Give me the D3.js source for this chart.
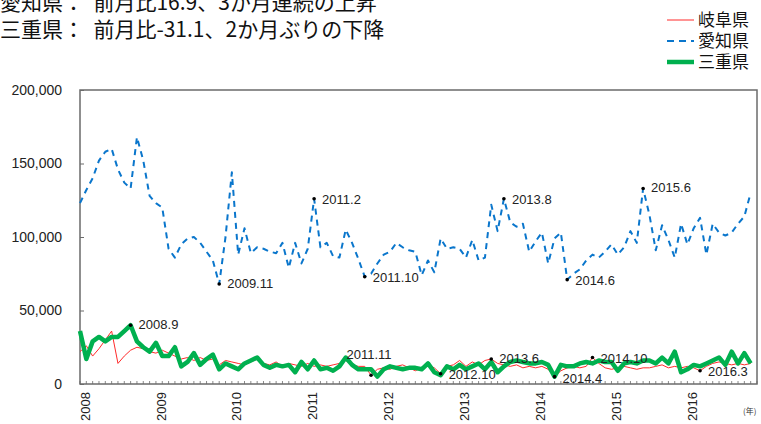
<!DOCTYPE html>
<html>
<head>
<meta charset="utf-8">
<script src="https://cdn.jsdelivr.net/npm/d3@7"></script>
<style>
  body { margin: 0; background: #fff; }
  svg { display: block; }
  .jp { font-family: "Noto Sans CJK JP", sans-serif; }
  .num { font-family: "Liberation Sans", Arial, sans-serif; }
</style>
</head>
<body>
<svg id="chart" width="761" height="424"></svg>
<script>
// monthly values, 2008.1 - 2016.11 (unit: count)
var startYear = 2008;
var years = [2008, 2009, 2010, 2011, 2012, 2013, 2014, 2015, 2016];
var yTicks = [0, 50000, 100000, 150000, 200000];

var seriesNames = ["岐阜県", "愛知県", "三重県"];

// 岐阜県 (thousands)
var gifu = [22, 26, 19, 24, 30, 36, 14, 19, 23, 25, 24, 22,
            21, 23, 21, 19, 17, 18, 16, 18, 16, 17, 13, 16,
            15, 14, 13, 15, 17, 14, 13, 15, 12, 14, 13, 12,
            14, 12, 13, 12, 13, 14, 16, 13, 12, 12, 6, 10,
            11, 10, 12, 13, 11, 9, 11, 13, 11, 7, 12, 13,
            16, 12, 15, 13, 16, 17, 14, 13, 12, 13, 11, 12,
            11, 12, 10, 5, 9, 11, 12, 11, 12, 18, 14, 11,
            10, 11, 12, 11, 10, 11, 11, 12, 13, 11, 12, 11,
            12, 11, 9, 12, 14, 15, 14, 13, 14, 13, 14];

// 愛知県 (thousands)
var aichi = [123, 132, 140, 152, 158, 160, 146, 137, 133, 168, 152, 128,
             123, 120, 92, 86, 95, 99, 100, 96, 90, 84, 68, 100,
             144, 88, 106, 89, 93, 92, 90, 89, 96, 79, 96, 82,
             92, 126, 93, 96, 87, 86, 105, 96, 85, 73, 75, 82,
             88, 90, 96, 93, 91, 90, 74, 84, 76, 99, 92, 93,
             92, 86, 98, 84, 86, 122, 104, 126, 110, 107, 109, 90,
             97, 103, 82, 99, 103, 71, 75, 78, 84, 88, 86, 90,
             95, 88, 93, 104, 96, 133, 115, 91, 108, 98, 86, 109,
             95, 106, 113, 88, 109, 103, 101, 103, 109, 114, 130];

// 三重県 (thousands)
var mie = [36, 17, 29, 32, 29, 32, 32, 36, 40, 29, 25, 22,
           28, 19, 19, 25, 12, 15, 21, 13, 17, 20, 10, 14,
           12, 10, 14, 16, 18, 13, 11, 13, 12, 13, 8, 15,
           10, 16, 10, 11, 9, 12, 18, 13, 10, 10, 10, 5,
           10, 12, 11, 10, 11, 11, 10, 14, 8, 6, 12, 10,
           13, 10, 12, 14, 10, 15, 8, 12, 15, 16, 15, 14,
           14, 15, 13, 5, 13, 12, 12, 14, 15, 14, 16, 15,
           15, 9, 14, 15, 14, 16, 16, 14, 18, 14, 22, 8,
           10, 13, 12, 14, 16, 18, 13, 22, 14, 21, 14];

var titleLines = ["愛知県：  前月比16.9、3か月連続の上昇",
                  "三重県：  前月比-31.1、2か月ぶりの下降"];

// annotated months
var notes = [
  { series: "三重県", label: "2008.9" },
  { series: "愛知県", label: "2009.11" },
  { series: "愛知県", label: "2011.2" },
  { series: "愛知県", label: "2011.10" },
  { series: "岐阜県", label: "2011.11" },
  { series: "岐阜県", label: "2012.10" },
  { series: "岐阜県", label: "2013.6" },
  { series: "愛知県", label: "2013.8" },
  { series: "岐阜県", label: "2014.4" },
  { series: "愛知県", label: "2014.6" },
  { series: "岐阜県", label: "2014.10" },
  { series: "愛知県", label: "2015.6" },
  { series: "岐阜県", label: "2016.3" }
];

var svg = d3.select("#chart");
var margin = { left: 80, right: 4, top: 90, bottom: 40 };
var W = 761, H = 424;

var nMonths = years.length * 12 - 1;
var x = d3.scaleLinear().domain([0, nMonths]).range([margin.left, W - margin.right]);
var y = d3.scaleLinear().domain([0, 200000]).range([H - margin.bottom, margin.top]);

var data = {
  "岐阜県": gifu.map(function(v) { return v * 1000; }),
  "愛知県": aichi.map(function(v) { return v * 1000; }),
  "三重県": mie.map(function(v) { return v * 1000; })
};
var styles = {
  "岐阜県": { color: "#ff2a2a", width: 1, dash: null },
  "愛知県": { color: "#0a76cc", width: 2, dash: "6,5" },
  "三重県": { color: "#00b04f", width: 4.5, dash: null }
};

function monthIndex(label) {
  var p = label.split(".");
  return (+p[0] - startYear) * 12 + (+p[1] - 1);
}

// title
svg.append("g").selectAll("text")
  .data(titleLines)
  .enter().append("text")
    .attr("class", "jp")
    .attr("x", 0)
    .attr("y", function(d, i) { return 10 + i * 27; })
    .attr("font-size", 21)
    .attr("fill", "#111")
    .attr("xml:space", "preserve")
    .text(function(d) { return d; });

// legend
var legend = svg.append("g");
seriesNames.forEach(function(name, i) {
  var cy = 20 + i * 21;
  var s = styles[name];
  legend.append("line")
    .attr("x1", 667).attr("x2", 694)
    .attr("y1", cy).attr("y2", cy)
    .attr("stroke", s.color)
    .attr("stroke-width", s.width)
    .attr("stroke-dasharray", s.dash ? "7,5" : null);
  legend.append("text")
    .attr("class", "jp")
    .attr("x", 698).attr("y", cy)
    .attr("dy", "0.36em")
    .attr("font-size", 17)
    .attr("fill", "#111")
    .text(name);
});

// frame
var frameColor = "#6b6b6b";
svg.append("rect")
  .attr("x", x(0)).attr("y", y(200000))
  .attr("width", x(nMonths) - x(0))
  .attr("height", y(0) - y(200000))
  .attr("fill", "none")
  .attr("stroke", frameColor)
  .attr("stroke-width", 1.5);

// y axis
var yAxis = svg.append("g")
  .attr("class", "num")
  .attr("transform", "translate(" + x(0) + ",0)")
  .call(d3.axisLeft(y).tickValues(yTicks).tickSize(-4).tickPadding(18)
    .tickFormat(d3.format(",")));
yAxis.select(".domain").remove();
yAxis.selectAll("line").attr("stroke", frameColor);
yAxis.selectAll("text").attr("font-size", 14).attr("fill", "#222")
  .attr("font-family", "Liberation Sans, Arial, sans-serif");

// monthly minor ticks (inside)
svg.append("g").selectAll("line")
  .data(d3.range(0, nMonths + 1))
  .enter().append("line")
    .attr("x1", function(d) { return x(d); })
    .attr("x2", function(d) { return x(d); })
    .attr("y1", y(0))
    .attr("y2", y(0) - 3)
    .attr("stroke", frameColor)
    .attr("stroke-width", 0.8);

// year labels
var xAxis = svg.append("g")
  .attr("transform", "translate(0," + y(0) + ")")
  .call(d3.axisBottom(x).tickValues(years.map(function(yr, i) { return i * 12; }))
    .tickSize(0)
    .tickFormat(function(d) { return years[d / 12]; }));
xAxis.select(".domain").remove();
xAxis.selectAll("text")
  .attr("font-family", "Liberation Sans, Arial, sans-serif")
  .attr("font-size", 13)
  .attr("fill", "#222")
  .attr("text-anchor", "end")
  .attr("transform", "rotate(-90)")
  .attr("x", -8)
  .attr("y", 0)
  .attr("dy", "0.7em");

svg.append("text")
  .attr("class", "jp")
  .attr("x", 743).attr("y", 414)
  .attr("font-size", 8)
  .attr("fill", "#333")
  .text("(年)");

// lines
var line = d3.line()
  .x(function(d, i) { return x(i); })
  .y(function(d) { return y(d); });

["岐阜県", "三重県", "愛知県"].forEach(function(name) {
  var s = styles[name];
  svg.append("path")
    .datum(data[name])
    .attr("d", line)
    .attr("fill", "none")
    .attr("stroke", s.color)
    .attr("stroke-width", s.width)
    .attr("stroke-dasharray", s.dash)
    .attr("stroke-linejoin", "round");
});

// annotations
var placement = {
  "2008.9": [8, 4, "start"],
  "2009.11": [8, 4, "start"],
  "2011.2": [8, 5, "start"],
  "2011.10": [8, 5, "start"],
  "2011.11": [-2, -16, "middle"],
  "2012.10": [8, 5, "start"],
  "2013.6": [8, 4, "start"],
  "2013.8": [8, 5, "start"],
  "2014.4": [8, 6, "start"],
  "2014.6": [8, 5, "start"],
  "2014.10": [8, 5, "start"],
  "2015.6": [8, 4, "start"],
  "2016.3": [8, 5, "start"]
};
var ann = svg.append("g");
notes.forEach(function(n) {
  var i = monthIndex(n.label);
  var px = x(i), py = y(data[n.series][i]);
  var p = placement[n.label];
  ann.append("circle")
    .attr("cx", px).attr("cy", py).attr("r", 1.8)
    .attr("fill", "#000");
  ann.append("text")
    .attr("x", px + p[0]).attr("y", py + p[1])
    .attr("text-anchor", p[2])
    .attr("font-family", "Liberation Sans, Arial, sans-serif")
    .attr("font-size", 13)
    .attr("fill", "#222")
    .text(n.label);
});
</script>
</body>
</html>
